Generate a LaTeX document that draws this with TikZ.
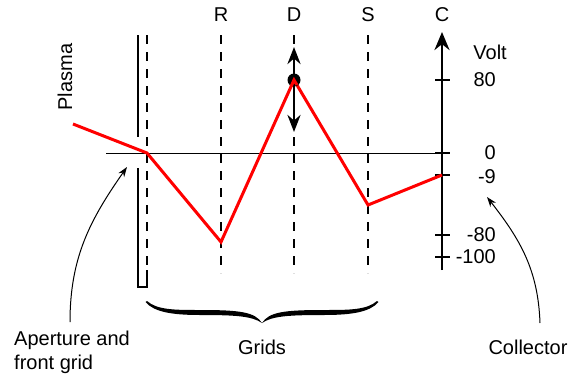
\documentclass[tikz,border=0pt]{standalone}
\usepackage{fontspec}
\setmainfont{Liberation Sans}
\usetikzlibrary{arrows.meta,calc}
\begin{document}
\begin{tikzpicture}[x=1pt,y=1pt,
  lbl/.style={font=\fontsize{20}{24}\selectfont, inner sep=0pt},
  gridline/.style={line width=2.8pt, dash pattern=on 8.5pt off 8.5pt},
  thin arrow/.style={line width=1pt, -{Stealth[length=10pt,width=7pt]}},
  red line/.style={red, line width=3pt, line join=miter},
  tick/.style={line width=1.6pt}]
\useasboundingbox (0,0) rectangle (568,-378);
% coordinates
\coordinate (zL) at (106,-153);
\coordinate (zR) at (442,-153);
\coordinate (p0) at (73,-124);
\coordinate (p1) at (147,-153);
\coordinate (p2) at (221,-242);
\coordinate (p3) at (294,-80);
\coordinate (p4) at (368,-205);
\coordinate (p5) at (442,-175);
% zero line
\draw[line width=0.9pt] (zL) -- (zR);
% aperture
\draw[line width=2.8pt] (138,-35) -- (138,-137);
\draw[line width=2.8pt, line join=miter] (138,-168) -- (138,-287) -- (147,-287) -- (147,-270);
% grids
\draw[gridline] (147,-35) -- (147,-287);
\draw[gridline] (221,-35) -- (221,-273);
\draw[gridline] (294,-35) -- (294,-273);
\draw[gridline] (368,-35) -- (368,-273);
% collector axis
\draw[line width=2.8pt, -{Stealth[length=18pt,width=15pt]}] (442,-270) -- (442,-32);
\foreach \yy in {80,153,175,235,257} \draw[tick] (435,-\yy) -- (450,-\yy);
% red potential
\draw[red line] (p0) -- (p1) -- (p2) -- (p3) -- (p4) -- (p5);
% D double arrow
\draw[line width=2.8pt, {Stealth[length=17pt,width=13pt]}-{Stealth[length=17pt,width=13pt]}] (294,-47) -- (294,-132);
\fill (p3) circle (6.5pt);
\draw[red, line width=3pt, line join=miter] ($(p3)!0.04!(p2)$) -- (p3) -- ($(p3)!0.04!(p4)$);
% labels
\node[lbl] (R) at (221,-15) {R};
\node[lbl] (D) at (294,-15) {D};
\node[lbl] (S) at (368,-15) {S};
\node[lbl] (C) at (442,-15) {C};
\node[lbl, anchor=east] (volt) at (507,-52) {Volt};
\node[lbl, anchor=east] (v80) at (496,-80) {80};
\node[lbl, anchor=east] (v0) at (496,-153) {0};
\node[lbl, anchor=east] (v9) at (496,-177) {-9};
\node[lbl, anchor=east] (v80n) at (496,-235) {-80};
\node[lbl, anchor=east] (v100) at (496,-257) {-100};
\node[lbl, rotate=90] (plasma) at (65,-77) {Plasma};
\node[lbl, anchor=west, align=left] (ap) at (14,-352) {Aperture and\\front grid};
\node[lbl] (grids) at (262,-347) {Grids};
\node[lbl] (coll) at (528,-347) {Collector};
% brace (filled calligraphic shape)
\fill (147,-301) .. controls (157,-310) and (175,-310) .. (200,-310)
  .. controls (240,-310) and (255,-312) .. (262,-323)
  .. controls (252,-316) and (235,-315) .. (200,-315)
  .. controls (172,-315) and (154,-312) .. (145.5,-302) -- cycle;
\fill (377,-301) .. controls (367,-310) and (349,-310) .. (324,-310)
  .. controls (284,-310) and (269,-312) .. (262,-323)
  .. controls (272,-316) and (289,-315) .. (324,-315)
  .. controls (352,-315) and (370,-312) .. (378.5,-302) -- cycle;
% pointer arrows
\coordinate (apTip) at (127,-167);
\coordinate (apStart) at (70,-322);
\coordinate (coTip) at (487,-197);
\coordinate (coStart) at (540,-323);
\draw[thin arrow] (apStart) to[out=90,in=235] (apTip);
\draw[thin arrow] (coStart) to[out=92,in=-52] (coTip);
\end{tikzpicture}
\end{document}
